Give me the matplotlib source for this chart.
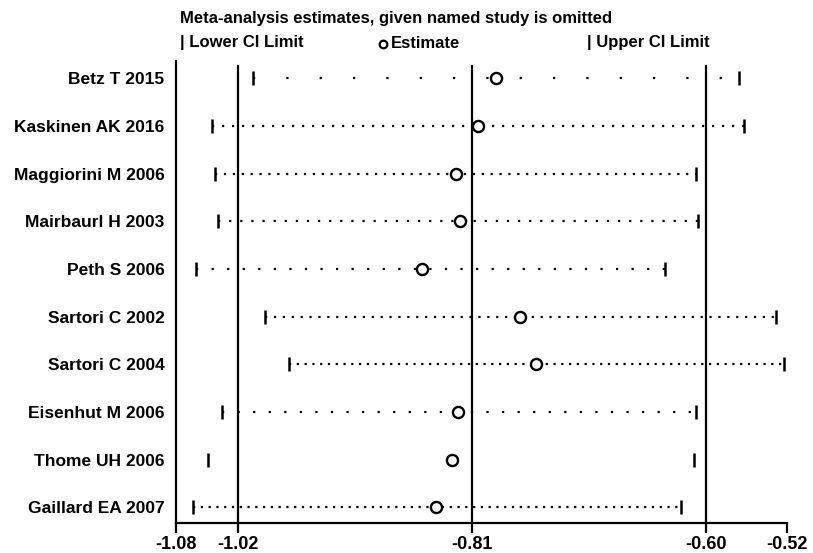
import matplotlib
matplotlib.use("Agg")
import matplotlib.pyplot as plt
import numpy as np

# omitted study -> meta-analysis estimate with CI
studies = ["Betz T 2015", "Kaskinen AK 2016", "Maggiorini M 2006", "Mairbaurl H 2003",
           "Peth S 2006", "Sartori C 2002", "Sartori C 2004", "Eisenhut M 2006",
           "Thome UH 2006", "Gaillard EA 2007"]
lower = [-1.0065, -1.0439, -1.0409, -1.0380, -1.0577, -0.9964, -0.9745, -1.0350, -1.0471, -1.0603]
estimate = [-0.7886, -0.8045, -0.8248, -0.8213, -0.8553, -0.7672, -0.7524, -0.8224, -0.8285, -0.8421]
upper = [-0.5704, -0.5659, -0.6090, -0.6068, -0.6370, -0.5368, -0.5300, -0.6094, -0.6106, -0.6226]

# overall result (reference lines) and axis ticks
ref_lines = [-1.02, -0.81, -0.60]
tick_pos = [-1.0762, -1.02, -0.81, -0.60, -0.5275]
tick_labels = ["-1.08", "-1.02", "-0.81", "-0.60", "-0.52"]

# gap between dots on each row's dotted line (0 = no line)
dot_gap = [14, 3.5, 3, 4, 6, 3, 2.5, 6, 0, 2.5]

fig = plt.figure(figsize=(8.13, 5.53), dpi=100)
ax = fig.add_axes([0.2161, 0.0542, 0.7516, 0.8355])

font = "Liberation Sans"
y = np.arange(len(studies))

for i in range(len(studies)):
    if dot_gap[i] > 0:
        ax.plot([lower[i], upper[i]], [y[i], y[i]], color="black", lw=1.6,
                linestyle=(0, (1, dot_gap[i])), zorder=2)
ax.plot(lower, y, linestyle="none", marker="|", markersize=10, mew=1.8, color="black", zorder=3)
ax.plot(upper, y, linestyle="none", marker="|", markersize=10, mew=1.8, color="black", zorder=3)
ax.plot(estimate, y, linestyle="none", marker="o", markersize=8, mew=1.7,
        markerfacecolor="white", markeredgecolor="black", zorder=4)

for r in ref_lines:
    ax.axvline(r, ymin=0, ymax=0.99, color="black", lw=1.6, zorder=1)

ax.set_xlim(tick_pos[0], tick_pos[-1])
ax.set_ylim(9.328, -0.36)
ax.set_xticks(tick_pos)
ax.set_xticklabels(tick_labels, fontfamily=font, fontweight="bold", fontsize=13)
ax.set_yticks(y)
ax.set_yticklabels(studies, fontfamily=font, fontweight="bold", fontsize=12.5)
ax.tick_params(axis="y", length=0, pad=8)
ax.tick_params(axis="x", length=7, width=1.6, pad=2)

for side in ["top", "right"]:
    ax.spines[side].set_visible(False)
for side in ["left", "bottom"]:
    ax.spines[side].set_linewidth(1.6)

# header text and legend line
hdr = dict(fontfamily=font, fontsize=12, fontweight="bold", va="center", ha="left")
fig.text(180 / 813, 1 - 18 / 553, "Meta-analysis estimates, given named study is omitted", **hdr)
fig.text(180 / 813, 1 - 43 / 553, "| Lower CI Limit", **hdr)
fig.text(391 / 813, 1 - 43 / 553, "Estimate", **hdr)
fig.text(587 / 813, 1 - 43 / 553, "| Upper CI Limit", **hdr)
fig.lines.append(plt.Line2D([383 / 813], [1 - 44 / 553], transform=fig.transFigure,
                            marker="o", markersize=5.5, mew=1.6, markerfacecolor="white",
                            markeredgecolor="black", linestyle="none"))

fig.savefig("out.png", dpi=100, facecolor="white")
